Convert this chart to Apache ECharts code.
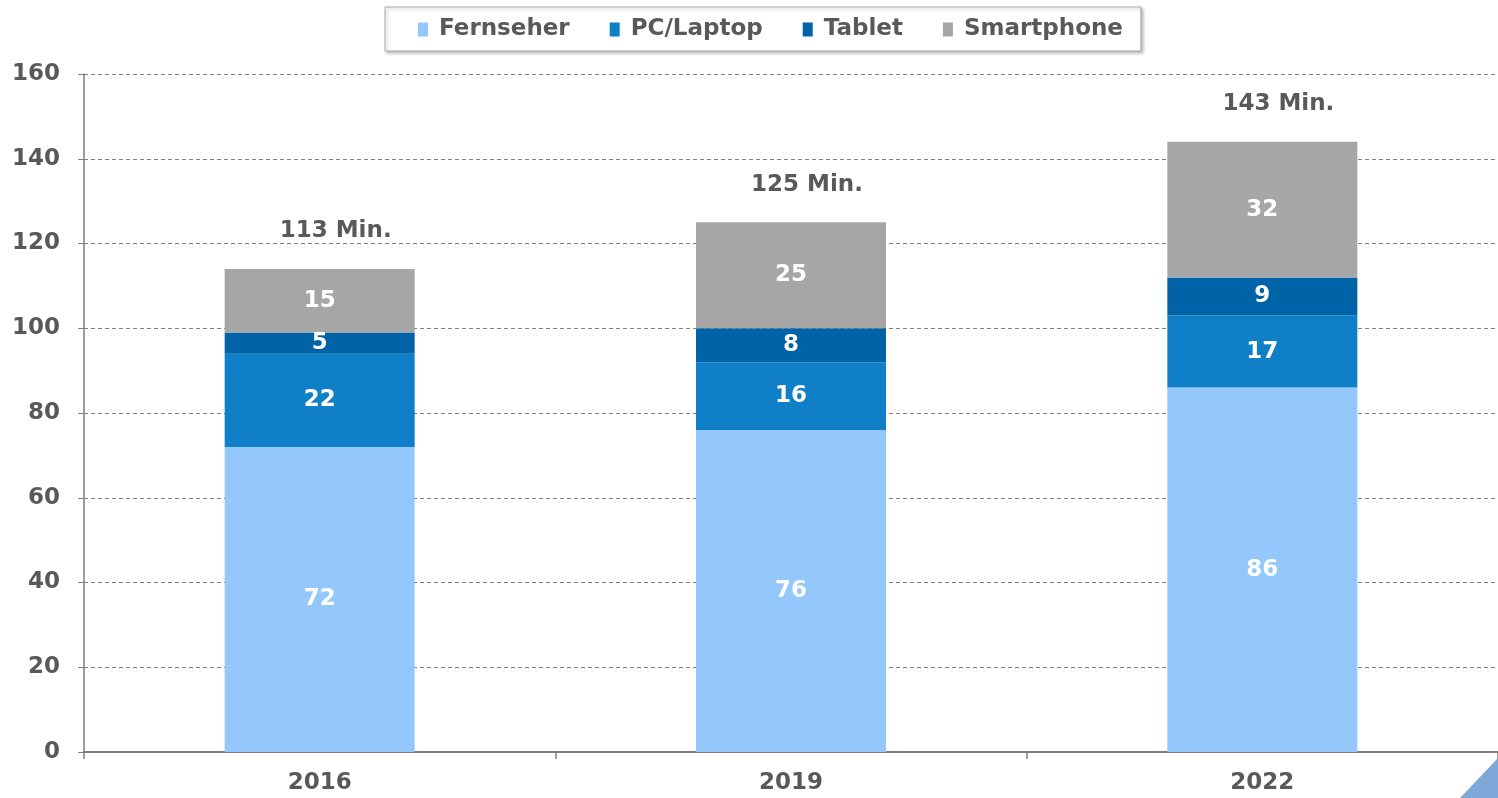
<!DOCTYPE html>
<html><head><meta charset="utf-8">
<script src="https://cdn.jsdelivr.net/npm/echarts@6/dist/echarts.min.js"></script>
<style>html,body{margin:0;padding:0;background:#fff}#c{width:1498px;height:798px}</style>
</head><body><div id="c"></div>
<script>
const categories = ['2016', '2019', '2022'];
const fernseher = [72, 76, 86];
const pcLaptop = [22, 16, 17];
const tablet = [5, 8, 9];
const smartphone = [15, 25, 32];
const totalLabels = ['113 Min.', '125 Min.', '143 Min.'];
const yTicks = [0, 20, 40, 60, 80, 100, 120, 140, 160];

const FONT = 'DejaVu Sans';
const TXT = '#595959';
const FS = 23;
const inLabel = {show: true, position: 'inside', color: '#fff', fontFamily: FONT, fontWeight: 'bold', fontSize: FS};

const chart = echarts.init(document.getElementById('c'), null, {renderer: 'canvas'});
chart.setOption({
  animation: false,
  textStyle: {fontFamily: FONT},
  legend: {
    top: 7, left: 385,
    data: ['Fernseher', 'PC/Laptop', 'Tablet', 'Smartphone'],
    icon: 'rect', itemWidth: 10, itemHeight: 14, itemGap: 40,
    padding: [11, 18, 10, 33],
    borderColor: '#a6a6a6', borderWidth: 1,
    shadowColor: 'rgba(0,0,0,0.25)', shadowBlur: 3, shadowOffsetX: 2, shadowOffsetY: 2,
    backgroundColor: '#fff',
    textStyle: {color: TXT, fontFamily: FONT, fontWeight: 'bold', fontSize: FS, padding: [0, 0, 0, 6]}
  },
  grid: {left: 84, right: -8, top: 74, bottom: 46, containLabel: false},
  xAxis: {
    type: 'category', data: categories,
    axisLine: {lineStyle: {color: '#7f7f7f', width: 2}},
    axisTick: {show: true, length: 7, lineStyle: {color: '#7f7f7f', width: 1.5}},
    axisLabel: {color: TXT, fontFamily: FONT, fontWeight: 'bold', fontSize: FS, margin: 20}
  },
  yAxis: {
    type: 'value', min: yTicks[0], max: yTicks[yTicks.length - 1], interval: 20,
    axisLine: {show: true, lineStyle: {color: '#7f7f7f', width: 1.5}},
    axisTick: {show: true, length: 6, lineStyle: {color: '#7f7f7f'}},
    axisLabel: {color: TXT, fontFamily: FONT, fontWeight: 'bold', fontSize: FS, margin: 24},
    splitLine: {show: true, lineStyle: {color: '#808080', type: [4, 3], width: 1}}
  },
  series: [
    {name: 'Fernseher', type: 'bar', stack: 't', data: fernseher, barWidth: 190, itemStyle: {color: '#94c7fc'}, label: inLabel},
    {name: 'PC/Laptop', type: 'bar', stack: 't', data: pcLaptop, itemStyle: {color: '#0f80c8'}, label: inLabel},
    {name: 'Tablet', type: 'bar', stack: 't', data: tablet, itemStyle: {color: '#0062a7'}, label: inLabel},
    {name: 'Smartphone', type: 'bar', stack: 't', data: smartphone, itemStyle: {color: '#a6a6a6'}, label: inLabel},
    {name: 'total', type: 'bar', stack: 't', data: categories.map(() => 0), itemStyle: {color: 'transparent'},
      label: {show: true, position: 'top', distance: 26, offset: [16, 0], color: TXT, fontFamily: FONT, fontWeight: 'bold', fontSize: FS,
        formatter: p => totalLabels[p.dataIndex]}}
  ],
  graphic: [{
    type: 'polygon', shape: {points: [[1460, 798], [1498, 798], [1498, 758]]},
    style: {fill: '#7fa8d8'}
  }]
});
</script></body></html>
